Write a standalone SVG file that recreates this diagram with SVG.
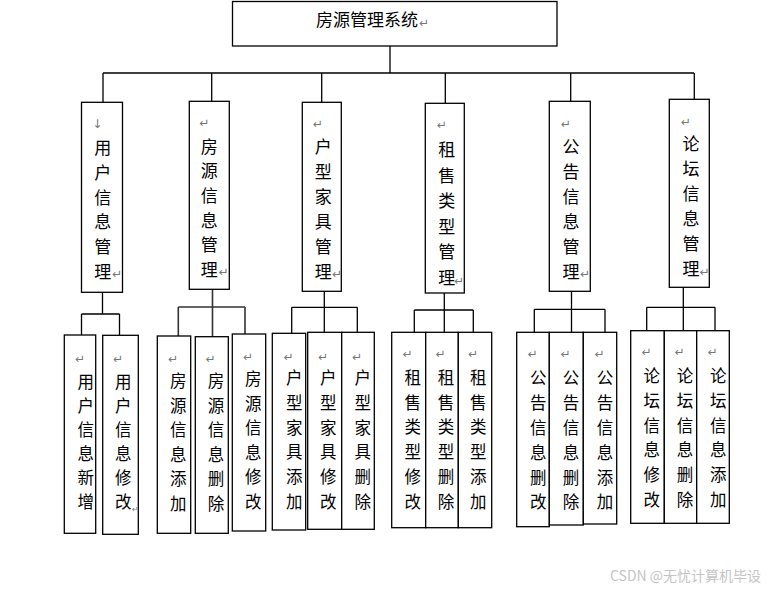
<svg xmlns="http://www.w3.org/2000/svg" width="772" height="589" viewBox="0 0 772 589">
<style>
.box{fill:#fff;stroke:#000;stroke-width:1.3}
.ln{fill:none;stroke:#000;stroke-width:1.3}
.t{font-family:"Liberation Serif","Noto Sans CJK SC",serif;fill:#000;text-anchor:middle;dominant-baseline:central}
.l1{font-size:17px}
.l2{font-size:16.5px}
.pm{font-family:"DejaVu Sans",sans-serif;font-size:12px;fill:#777;text-anchor:middle;dominant-baseline:central}
.wm{font-family:"Noto Sans CJK SC",sans-serif;font-size:14px;fill:#c4c4c4}
</style>
<rect width="772" height="589" fill="#fff"/>
<g id="connectors">
<path class="ln" d="M390 46V73M103 73H694M103 73V102M211.7 73V101M321.7 73V102M445.3 73V103M570.7 73V101M694.3 73V99"/>
<path class="ln" d="M102.5 292V314M81.5 314H119.5M81.5 314V335M119.5 314V335"/>
<path class="ln" d="M212.5 289V336M178.3 307H245M178.3 307V336M245 307V334" style="stroke:#333;stroke-width:1.6"/>
<path class="ln" d="M324.3 291V332M291.7 307.3H357.3M291.7 307.3V333M357.3 307.3V332"/>
<path class="ln" d="M444.3 293V332M414.3 310H473.3M414.3 310V332M473.3 310V332"/>
<path class="ln" d="M571.5 291V332M534.3 309.3H605M534.3 309.3V332M605 309.3V332"/>
<path class="ln" d="M683.3 287V330M646.7 307.3H715M646.7 307.3V330M715 307.3V330"/>
</g>
<g id="root">
<rect class="box" x="232.5" y="1.5" width="324.5" height="44.5"/>
<text class="t" x="367" y="20" style="font-size:17px">房源管理系统</text>
<text class="pm" x="424" y="23">↵</text>
</g>
<g id="n1">
<rect class="box" x="81.5" y="102.3" width="41" height="190"/>
<text class="pm" x="97.3" y="124">↓</text>
<text class="t l1"><tspan x="102.7" y="148">用</tspan><tspan x="102.7" y="173">户</tspan><tspan x="102.7" y="198">信</tspan><tspan x="102.7" y="222">息</tspan><tspan x="102.7" y="247">管</tspan><tspan x="102.7" y="272">理</tspan></text>
<text class="pm" x="117" y="274">↵</text>
</g>
<g id="n2">
<rect class="box" x="189.3" y="101.3" width="40" height="188"/>
<text class="pm" x="204.3" y="123.3">↵</text>
<text class="t l1"><tspan x="209.3" y="146.7">房</tspan><tspan x="209.3" y="171.4">源</tspan><tspan x="209.3" y="196">信</tspan><tspan x="209.3" y="220.7">息</tspan><tspan x="209.3" y="245.4">管</tspan><tspan x="209.3" y="270">理</tspan></text>
<text class="pm" x="223.5" y="272">↵</text>
</g>
<g id="n3">
<rect class="box" x="302.3" y="102.3" width="39" height="189"/>
<text class="pm" x="317.7" y="124.3">↵</text>
<text class="t l1"><tspan x="323.3" y="146.7">户</tspan><tspan x="323.3" y="171.7">型</tspan><tspan x="323.3" y="196.7">家</tspan><tspan x="323.3" y="221.7">具</tspan><tspan x="323.3" y="246.7">管</tspan><tspan x="323.3" y="271.7">理</tspan></text>
<text class="pm" x="337" y="274">↵</text>
</g>
<g id="n4">
<rect class="box" x="425.3" y="103.3" width="39" height="189.7"/>
<text class="pm" x="441.7" y="125">↵</text>
<text class="t l1"><tspan x="446.7" y="150">租</tspan><tspan x="446.7" y="175.6">售</tspan><tspan x="446.7" y="201.2">类</tspan><tspan x="446.7" y="226.8">型</tspan><tspan x="446.7" y="252.4">管</tspan><tspan x="446.7" y="278">理</tspan></text>
<text class="pm" x="459" y="281">↵</text>
</g>
<g id="n5">
<rect class="box" x="549.3" y="101.3" width="41" height="190"/>
<text class="pm" x="565.7" y="124.3">↵</text>
<text class="t l1"><tspan x="571" y="146.7">公</tspan><tspan x="571" y="171.7">告</tspan><tspan x="571" y="196.7">信</tspan><tspan x="571" y="221.7">息</tspan><tspan x="571" y="246.7">管</tspan><tspan x="571" y="271.7">理</tspan></text>
<text class="pm" x="585" y="274">↵</text>
</g>
<g id="n6">
<rect class="box" x="669.3" y="99.3" width="40" height="188"/>
<text class="pm" x="685.7" y="121.7">↵</text>
<text class="t l1"><tspan x="691" y="144">论</tspan><tspan x="691" y="169">坛</tspan><tspan x="691" y="194">信</tspan><tspan x="691" y="219.3">息</tspan><tspan x="691" y="244.3">管</tspan><tspan x="691" y="269.3">理</tspan></text>
<text class="pm" x="704.5" y="272">↵</text>
</g>
<g id="n1a">
<rect class="box" x="64.3" y="335" width="31.4" height="198.3"/>
<text class="pm" x="80" y="359">↵</text>
<text class="t l2"><tspan x="85.7" y="381.7">用</tspan><tspan x="85.7" y="405.7">户</tspan><tspan x="85.7" y="429.7">信</tspan><tspan x="85.7" y="453.7">息</tspan><tspan x="85.7" y="477.7">新</tspan><tspan x="85.7" y="501.7">增</tspan></text>
</g>
<g id="n1b">
<rect class="box" x="102.7" y="335.3" width="35.6" height="199"/>
<text class="pm" x="118" y="359">↵</text>
<text class="t l2"><tspan x="123.3" y="381.7">用</tspan><tspan x="123.3" y="405.7">户</tspan><tspan x="123.3" y="429.7">信</tspan><tspan x="123.3" y="453.7">息</tspan><tspan x="123.3" y="477.7">修</tspan><tspan x="123.3" y="501.7">改</tspan></text>
<text class="pm" x="135.3" y="509" style="font-size:8px">↵</text>
</g>
<g id="n2a">
<rect class="box" x="157.3" y="336" width="33.4" height="197.3"/>
<text class="pm" x="173" y="359">↵</text>
<text class="t l2"><tspan x="178.3" y="381">房</tspan><tspan x="178.3" y="405.6">源</tspan><tspan x="178.3" y="430.2">信</tspan><tspan x="178.3" y="454.8">息</tspan><tspan x="178.3" y="479.4">添</tspan><tspan x="178.3" y="504">加</tspan></text>
</g>
<g id="n2b">
<rect class="box" x="195.3" y="336.7" width="33" height="196.6"/>
<text class="pm" x="210.5" y="359">↵</text>
<text class="t l2"><tspan x="216" y="381">房</tspan><tspan x="216" y="405.6">源</tspan><tspan x="216" y="430.2">信</tspan><tspan x="216" y="454.8">息</tspan><tspan x="216" y="479.4">删</tspan><tspan x="216" y="504">除</tspan></text>
</g>
<g id="n2c">
<rect class="box" x="232.3" y="334" width="33.4" height="197"/>
<text class="pm" x="248" y="357">↵</text>
<text class="t l2"><tspan x="253.3" y="379">房</tspan><tspan x="253.3" y="403.6">源</tspan><tspan x="253.3" y="428.2">信</tspan><tspan x="253.3" y="452.8">息</tspan><tspan x="253.3" y="477.4">修</tspan><tspan x="253.3" y="502">改</tspan></text>
</g>
<g id="n3a">
<rect class="box" x="272.3" y="333.3" width="33.4" height="196.7"/>
<text class="pm" x="288.5" y="356.7">↵</text>
<text class="t l2"><tspan x="294.3" y="378.3">户</tspan><tspan x="294.3" y="403">型</tspan><tspan x="294.3" y="427.7">家</tspan><tspan x="294.3" y="452.4">具</tspan><tspan x="294.3" y="477.1">添</tspan><tspan x="294.3" y="501.7">加</tspan></text>
</g>
<g id="n3b">
<rect class="box" x="307.7" y="332.3" width="34" height="197"/>
<text class="pm" x="323" y="356.7">↵</text>
<text class="t l2"><tspan x="328.3" y="378.3">户</tspan><tspan x="328.3" y="403">型</tspan><tspan x="328.3" y="427.7">家</tspan><tspan x="328.3" y="452.4">具</tspan><tspan x="328.3" y="477.1">修</tspan><tspan x="328.3" y="501.7">改</tspan></text>
</g>
<g id="n3c">
<rect class="box" x="341.7" y="332.3" width="32.6" height="197"/>
<text class="pm" x="357" y="356.7">↵</text>
<text class="t l2"><tspan x="362.7" y="378.3">户</tspan><tspan x="362.7" y="403">型</tspan><tspan x="362.7" y="427.7">家</tspan><tspan x="362.7" y="452.4">具</tspan><tspan x="362.7" y="477.1">删</tspan><tspan x="362.7" y="501.7">除</tspan></text>
</g>
<g id="n4a">
<rect class="box" x="391.7" y="332.3" width="34" height="195.4"/>
<text class="pm" x="407.5" y="354.3">↵</text>
<text class="t l2"><tspan x="412.7" y="377.7">租</tspan><tspan x="412.7" y="402.5">售</tspan><tspan x="412.7" y="427.3">类</tspan><tspan x="412.7" y="452.1">型</tspan><tspan x="412.7" y="476.9">修</tspan><tspan x="412.7" y="501.7">改</tspan></text>
</g>
<g id="n4b">
<rect class="box" x="425.7" y="332.3" width="32.6" height="195.4"/>
<text class="pm" x="440.5" y="354.3">↵</text>
<text class="t l2"><tspan x="446" y="377.7">租</tspan><tspan x="446" y="402.5">售</tspan><tspan x="446" y="427.3">类</tspan><tspan x="446" y="452.1">型</tspan><tspan x="446" y="476.9">删</tspan><tspan x="446" y="501.7">除</tspan></text>
</g>
<g id="n4c">
<rect class="box" x="458.3" y="332.3" width="33.4" height="195.4"/>
<text class="pm" x="473" y="354.3">↵</text>
<text class="t l2"><tspan x="478.3" y="377.7">租</tspan><tspan x="478.3" y="402.5">售</tspan><tspan x="478.3" y="427.3">类</tspan><tspan x="478.3" y="452.1">型</tspan><tspan x="478.3" y="476.9">添</tspan><tspan x="478.3" y="501.7">加</tspan></text>
</g>
<g id="n5a">
<rect class="box" x="516.7" y="332.3" width="32.6" height="194.4"/>
<text class="pm" x="532.5" y="354">↵</text>
<text class="t l2"><tspan x="538.3" y="378.3">公</tspan><tspan x="538.3" y="403.1">告</tspan><tspan x="538.3" y="427.9">信</tspan><tspan x="538.3" y="452.7">息</tspan><tspan x="538.3" y="477.5">删</tspan><tspan x="538.3" y="502.3">改</tspan></text>
</g>
<g id="n5b">
<rect class="box" x="549.3" y="332.3" width="34" height="192.7"/>
<text class="pm" x="565.5" y="354">↵</text>
<text class="t l2"><tspan x="571" y="378.3">公</tspan><tspan x="571" y="403.1">告</tspan><tspan x="571" y="427.9">信</tspan><tspan x="571" y="452.7">息</tspan><tspan x="571" y="477.5">删</tspan><tspan x="571" y="502.3">除</tspan></text>
</g>
<g id="n5c">
<rect class="box" x="583.3" y="332.3" width="33.4" height="191.7"/>
<text class="pm" x="599.5" y="354">↵</text>
<text class="t l2"><tspan x="605" y="378.3">公</tspan><tspan x="605" y="403.1">告</tspan><tspan x="605" y="427.9">信</tspan><tspan x="605" y="452.7">息</tspan><tspan x="605" y="477.5">添</tspan><tspan x="605" y="502.3">加</tspan></text>
</g>
<g id="n6a">
<rect class="box" x="630.7" y="330.7" width="33.6" height="192.6"/>
<text class="pm" x="646.5" y="352.3">↵</text>
<text class="t l2"><tspan x="651.7" y="376">论</tspan><tspan x="651.7" y="400.8">坛</tspan><tspan x="651.7" y="425.6">信</tspan><tspan x="651.7" y="450.4">息</tspan><tspan x="651.7" y="475.2">修</tspan><tspan x="651.7" y="500">改</tspan></text>
</g>
<g id="n6b">
<rect class="box" x="664.3" y="330.7" width="32.4" height="192.6"/>
<text class="pm" x="679.5" y="352.3">↵</text>
<text class="t l2"><tspan x="685" y="376">论</tspan><tspan x="685" y="400.8">坛</tspan><tspan x="685" y="425.6">信</tspan><tspan x="685" y="450.4">息</tspan><tspan x="685" y="475.2">删</tspan><tspan x="685" y="500">除</tspan></text>
</g>
<g id="n6c">
<rect class="box" x="696.7" y="330.7" width="32.6" height="192.6"/>
<text class="pm" x="712.5" y="352.3">↵</text>
<text class="t l2"><tspan x="718.3" y="376">论</tspan><tspan x="718.3" y="400.8">坛</tspan><tspan x="718.3" y="425.6">信</tspan><tspan x="718.3" y="450.4">息</tspan><tspan x="718.3" y="475.2">添</tspan><tspan x="718.3" y="500">加</tspan></text>
</g>
<text class="wm" x="610" y="581">CSDN @无忧计算机毕设</text>
</svg>
